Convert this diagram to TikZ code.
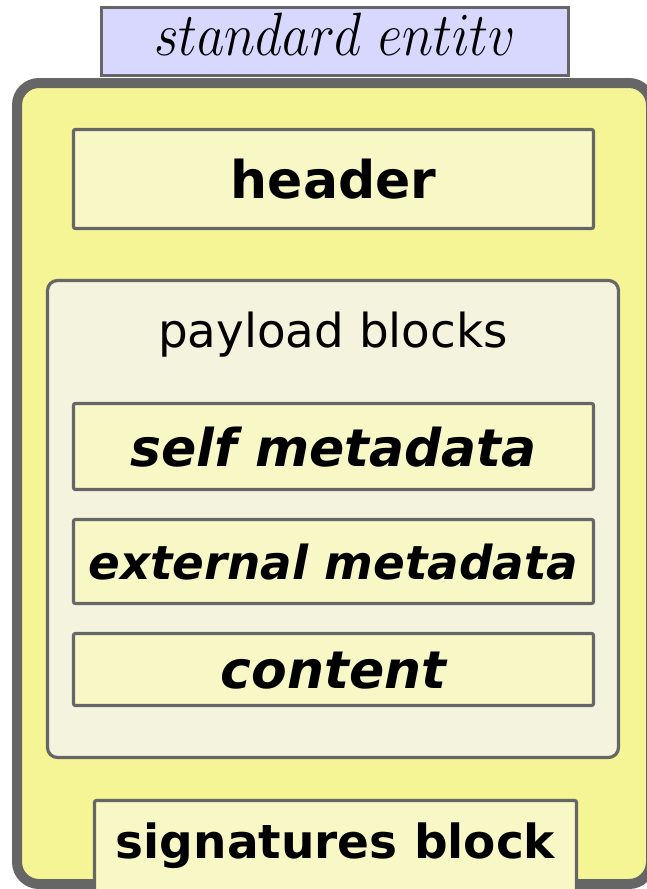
\RequirePackage{fix-cm}
\documentclass[tikz,border=0pt]{standalone}
\usepackage{fontspec}
\newfontfamily\dejavu{DejaVu Sans}[ItalicFont={DejaVu Sans Oblique},BoldFont={DejaVu Sans Bold},BoldItalicFont={DejaVu Sans Bold Oblique}]
\definecolor{edge}{HTML}{666666}
\definecolor{titlefill}{HTML}{D8D8FF}
\definecolor{framefill}{HTML}{F5F596}
\definecolor{partfill}{HTML}{F8F8C6}
\definecolor{payfill}{HTML}{F4F4DE}
\tikzset{
  frame/.style={draw=edge, fill=framefill, line width=5pt, rounded corners=11pt, inner sep=0pt},
  titlebox/.style={draw=edge, fill=titlefill, line width=1.6pt, inner sep=0pt},
  part/.style={draw=edge, fill=partfill, line width=1.6pt, rounded corners=1pt, inner sep=0pt},
  payload/.style={draw=edge, fill=payfill, line width=1.6pt, rounded corners=5pt, inner sep=0pt},
  lbl/.style={anchor=base, inner sep=0pt, font=\dejavu\bfseries\fontsize{26}{30}\selectfont},
  ilbl/.style={lbl, font=\dejavu\bfseries\itshape\fontsize{26}{30}\selectfont},
}
\begin{document}
\begin{tikzpicture}[x=0.5pt,y=-0.5pt]
\path[use as bounding box] (0,0) rectangle (647,889);
\clip (0,0) rectangle (647,889);
\fill[white] (0,0) rectangle (647,889);

% outer entity frame
\node[frame, minimum width=317pt, minimum height=400.5pt] (entity) at (334,483.5) {};

% title tab
\node[titlebox, minimum width=233.5pt, minimum height=34pt] (tab) at (335,41.5) {};
\node[anchor=base, inner sep=0pt, font=\fontsize{26.6}{30}\selectfont] (title) at (335,55) {\scalebox{1}[1.15]{$standard\ entitv$}};

% header
\node[part, minimum width=260pt, minimum height=49.5pt] (header) at (333.5,179) {};
\node[lbl] (headertxt) at (333.5,198) {header};

% payload container
\node[payload, minimum width=285.5pt, minimum height=238.5pt] (payload) at (333,519) {};
\node[anchor=base, inner sep=0pt, font=\dejavu\fontsize{23.4}{28}\selectfont] (paytxt) at (333,347) {payload blocks};

\node[part, minimum width=260pt, minimum height=43pt] (self) at (333.5,446.5) {};
\node[ilbl] (selftxt) at (333.5,466) {self metadata};

\node[part, minimum width=260pt, minimum height=42pt] (ext) at (333.5,561.5) {};
\node[ilbl, font=\dejavu\bfseries\itshape\fontsize{23.4}{28}\selectfont] (exttxt) at (333.5,579) {external metadata};

\node[part, minimum width=260pt, minimum height=36pt] (content) at (333.5,669.5) {};
\node[ilbl] (contenttxt) at (333.5,688) {content};

% signatures
\node[part, minimum width=241pt, minimum height=49.5pt] (sig) at (335.5,850) {};
\node[lbl, font=\dejavu\bfseries\fontsize{23.5}{28}\selectfont] (sigtxt) at (335.5,858) {signatures block};
\end{tikzpicture}
\end{document}
